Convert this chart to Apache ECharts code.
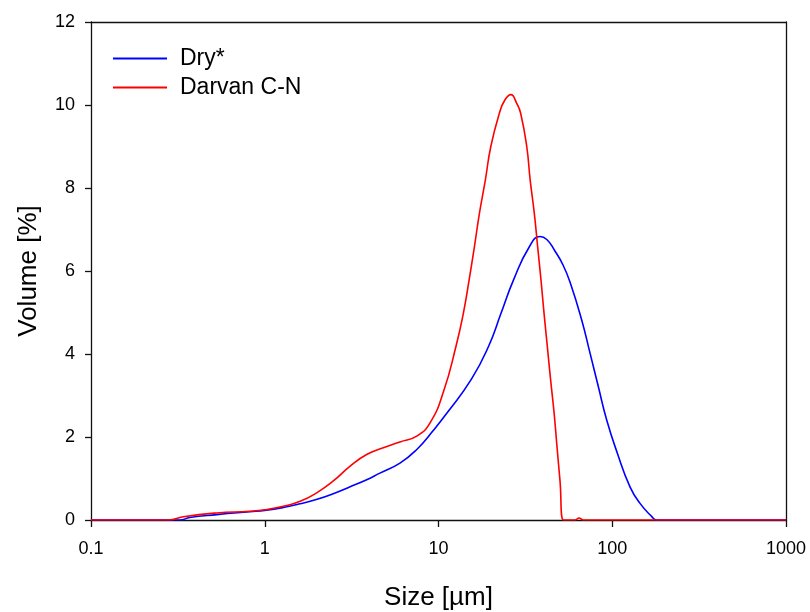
<!DOCTYPE html>
<html>
<head>
<meta charset="utf-8">
<script src="https://cdn.jsdelivr.net/npm/echarts@6/dist/echarts.min.js"></script>
<style>html,body{margin:0;padding:0;background:#fff}#c{width:810px;height:612px}</style>
</head>
<body>
<div id="c"></div>
<script>
// Data
const dryX = [0.1, 0.325, 0.37, 0.53, 0.82, 1.0, 1.28, 1.6, 2.0, 2.5, 3.1, 3.86, 4.6, 6.0, 7.5, 9.3, 11.3, 15.5, 19.4, 22.9, 27.0, 33.4, 38.4, 42, 46.5, 52, 57.5, 66.7, 74.5, 83.2, 92.9, 107, 126.5, 144.5, 169, 180, 1000];
const dryY = [0, 0, 0.06, 0.13, 0.2, 0.23, 0.3, 0.39, 0.5, 0.64, 0.80, 0.97, 1.13, 1.37, 1.7, 2.15, 2.6, 3.4, 4.18, 4.98, 5.78, 6.59, 6.83, 6.76, 6.5, 6.15, 5.7, 4.82, 4.02, 3.21, 2.41, 1.61, 0.8, 0.4, 0.08, 0, 0];
const darvanX = [0.1, 0.279, 0.34, 0.53, 0.82, 1.0, 1.28, 1.6, 2.0, 2.48, 3.1, 3.86, 4.81, 6.0, 7.49, 8.94, 10.7, 12.6, 13.9, 15.0, 16.1, 17.2, 18.6, 20.0, 22.4, 24.1, 26.1, 28.2, 29.7, 32.2, 33.7, 35.6, 37.2, 38.9, 40.5, 42.3, 44.2, 46.3, 47.9, 50.0, 52.5, 58, 61, 64.4, 68, 1000];
const darvanY = [0, 0, 0.08, 0.17, 0.21, 0.245, 0.33, 0.45, 0.66, 0.94, 1.3, 1.58, 1.74, 1.88, 2.02, 2.34, 3.1, 4.18, 4.98, 5.78, 6.59, 7.39, 8.19, 9.0, 9.8, 10.12, 10.25, 10.04, 9.8, 9.0, 8.19, 7.39, 6.59, 5.78, 4.98, 4.18, 3.37, 2.57, 1.85, 0.96, 0, 0, 0, 0.05, 0, 0];
const xTicks = [0.1, 1, 10, 100, 1000];
const yTicks = [0, 2, 4, 6, 8, 10, 12];
const seriesNames = ['Dry*', 'Darvan C-N'];

const pairs = (xs, ys) => xs.map((x, i) => [x, ys[i]]);
const font = 'Liberation Sans, Arial, sans-serif';
const axisColor = '#111';

const chart = echarts.init(document.getElementById('c'), null, {renderer: 'canvas'});
chart.setOption({
  animation: false,
  backgroundColor: '#fff',
  textStyle: {fontFamily: font, color: '#000'},
  grid: {left: 91, right: 24, top: 22, bottom: 92, containLabel: false, outerBoundsMode: 'none'},
  legend: {
    left: 113, top: 47, orient: 'vertical', itemGap: 6, padding: 0,
    itemWidth: 54, itemHeight: 2, icon: 'rect',
    textStyle: {fontFamily: font, fontSize: 23, color: '#000', padding: [0, 0, 0, 8]},
    data: seriesNames
  },
  xAxis: [{
    type: 'log', logBase: 10, min: xTicks[0], max: xTicks[xTicks.length - 1],
    name: 'Size [µm]', nameLocation: 'middle', nameGap: 65,
    nameTextStyle: {fontFamily: font, fontSize: 26, color: '#000'},
    axisLine: {show: true, onZero: false, lineStyle: {color: axisColor, width: 1.3}},
    axisTick: {show: true, inside: false, length: 7, lineStyle: {color: axisColor, width: 1.3}},
    minorTick: {show: false},
    splitLine: {show: false},
    axisLabel: {fontFamily: font, fontSize: 18, color: '#000', margin: 20,
      formatter: v => String(xTicks.reduce((a, b) => Math.abs(Math.log10(b) - Math.log10(v)) < Math.abs(Math.log10(a) - Math.log10(v)) ? b : a))}
  }, {
    type: 'log', logBase: 10, min: xTicks[0], max: xTicks[xTicks.length - 1], position: 'top',
    axisLine: {show: true, onZero: false, lineStyle: {color: axisColor, width: 1.3}},
    axisTick: {show: false}, axisLabel: {show: false}, splitLine: {show: false}
  }],
  yAxis: [{
    type: 'value', min: yTicks[0], max: yTicks[yTicks.length - 1], interval: 2,
    name: 'Volume [%]', nameLocation: 'middle', nameGap: 49, nameRotate: 90,
    nameTextStyle: {fontFamily: font, fontSize: 26, color: '#000'},
    axisLine: {show: true, onZero: false, lineStyle: {color: axisColor, width: 1.3}},
    axisTick: {show: true, inside: false, length: 6, lineStyle: {color: axisColor, width: 1.3}},
    splitLine: {show: false},
    axisLabel: {fontFamily: font, fontSize: 18, color: '#000', margin: 16}
  }, {
    type: 'value', min: yTicks[0], max: yTicks[yTicks.length - 1], interval: 2, position: 'right',
    axisLine: {show: true, onZero: false, lineStyle: {color: axisColor, width: 1.3}},
    axisTick: {show: false}, axisLabel: {show: false}, splitLine: {show: false}
  }],
  series: [{
    name: seriesNames[0], type: 'line', data: pairs(dryX, dryY),
    smooth: 0.5, showSymbol: false, symbol: 'none',
    lineStyle: {color: '#0000FF', width: 1.6}, itemStyle: {color: '#0000FF'}, z: 2
  }, {
    name: seriesNames[1], type: 'line', data: pairs(darvanX, darvanY),
    smooth: 0.5, showSymbol: false, symbol: 'none',
    lineStyle: {color: '#FF0000', width: 1.6}, itemStyle: {color: '#FF0000'}, z: 3
  }]
});
</script>
</body>
</html>
